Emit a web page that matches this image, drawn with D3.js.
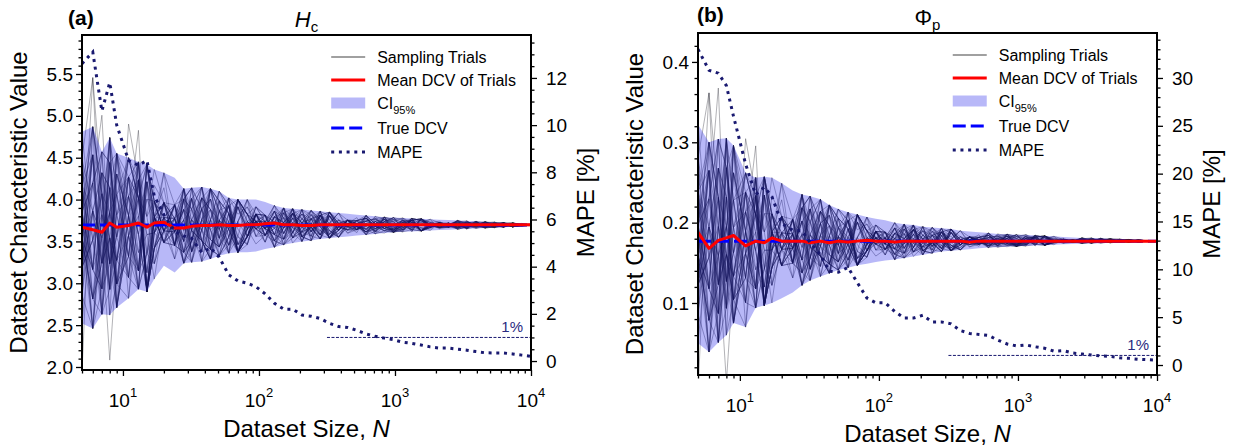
<!DOCTYPE html>
<html>
<head>
<meta charset="utf-8">
<script src="https://cdn.jsdelivr.net/npm/d3@7"></script>
<style>
  body { margin: 0; background: #fff; }
  svg { display: block; font-family: "Liberation Sans", Arial, sans-serif; }
</style>
</head>
<body>
<svg id="chart" width="1238" height="448"></svg>
<script>
// dataset sizes (log grid) shared by both panels
const N_SIZES = [5, 6, 7, 8, 9, 11, 13, 15, 17, 20, 24, 28, 32, 38, 44, 51, 60, 70, 82, 95,
  111, 130, 152, 177, 207, 242, 282, 330, 385, 449, 525, 613, 716, 836, 976,
  1140, 1331, 1554, 1815, 2120, 2476, 2891, 3376, 3943, 4604, 5377, 6279, 7333, 8564, 10000];

// (a) H_c
const HC_TRUE = 3.695;
const HC_MEAN = [3.67, 3.64, 3.61, 3.72, 3.67, 3.69, 3.72, 3.67, 3.72, 3.73,
  3.66, 3.66, 3.68, 3.69, 3.69, 3.70, 3.69, 3.69, 3.70, 3.70,
  3.71, 3.72, 3.70, 3.70, 3.69, 3.69, 3.70, 3.70, 3.70, 3.70,
  3.70, 3.70, 3.70, 3.70, 3.70, 3.70, 3.70, 3.70, 3.70, 3.70,
  3.70, 3.70, 3.70, 3.70, 3.70, 3.70, 3.70, 3.70, 3.70, 3.70];
const HC_CI_HI = [4.81, 4.87, 4.57, 4.74, 4.55, 4.50, 4.45, 4.42, 4.36, 4.32,
  4.26, 4.13, 4.14, 4.15, 4.13, 4.10, 4.02, 4.00, 4.00, 4.00,
  3.97, 3.93, 3.90, 3.89, 3.88, 3.87, 3.86, 3.85, 3.84, 3.83,
  3.82, 3.81, 3.80, 3.79, 3.785, 3.78, 3.775, 3.77, 3.765, 3.76,
  3.755, 3.75, 3.745, 3.74, 3.735, 3.73, 3.725, 3.72, 3.715, 3.71];
const HC_CI_LO = [2.52, 2.46, 2.63, 2.62, 2.71, 2.82, 2.93, 2.90, 3.05, 3.21,
  3.13, 3.24, 3.25, 3.26, 3.29, 3.33, 3.36, 3.37, 3.37, 3.38,
  3.41, 3.43, 3.46, 3.48, 3.50, 3.51, 3.53, 3.54, 3.55, 3.56,
  3.57, 3.58, 3.59, 3.60, 3.61, 3.615, 3.62, 3.625, 3.63, 3.635,
  3.64, 3.645, 3.65, 3.655, 3.66, 3.665, 3.67, 3.675, 3.68, 3.685];
const HC_MAPE = [12.6, 13.1, 10.6, 11.8, 10.0, 8.5, 8.3, 8.5, 7.0, 6.2,
  5.5, 5.3, 5.2, 4.6, 4.8, 4.4, 3.65, 3.4, 3.3, 3.15,
  2.85, 2.45, 2.2, 2.2, 1.95, 1.9, 1.8, 1.6, 1.46, 1.42,
  1.3, 1.15, 1.05, 0.97, 0.9, 0.8, 0.75, 0.68, 0.6, 0.55,
  0.55, 0.5, 0.46, 0.4, 0.35, 0.34, 0.34, 0.3, 0.25, 0.2];

// (b) Phi_p
const PHI_TRUE = 0.177;
const PHI_MEAN = [0.188, 0.168, 0.178, 0.181, 0.184, 0.171, 0.177, 0.175, 0.181, 0.177,
  0.177, 0.177, 0.175, 0.177, 0.175, 0.177, 0.176, 0.177, 0.178, 0.177,
  0.177, 0.176, 0.177, 0.177, 0.177, 0.177, 0.177, 0.177, 0.177, 0.176,
  0.177, 0.177, 0.177, 0.177, 0.177, 0.177, 0.177, 0.177, 0.177, 0.177,
  0.177, 0.177, 0.177, 0.177, 0.177, 0.177, 0.177, 0.177, 0.177, 0.177];
const PHI_CI_HI = [0.322, 0.300, 0.304, 0.305, 0.296, 0.262, 0.256, 0.257, 0.256, 0.249,
  0.240, 0.235, 0.233, 0.229, 0.222, 0.217, 0.213, 0.210, 0.207, 0.205,
  0.203, 0.200, 0.198, 0.197, 0.195, 0.194, 0.193, 0.192, 0.190, 0.189,
  0.188, 0.187, 0.186, 0.1855, 0.185, 0.185, 0.184, 0.1835, 0.183, 0.182,
  0.1815, 0.181, 0.181, 0.1805, 0.180, 0.1795, 0.179, 0.1785, 0.178, 0.1775];
const PHI_CI_LO = [0.050, 0.039, 0.051, 0.060, 0.075, 0.070, 0.094, 0.097, 0.100, 0.106,
  0.113, 0.122, 0.128, 0.133, 0.137, 0.141, 0.144, 0.147, 0.149, 0.151,
  0.153, 0.154, 0.156, 0.158, 0.160, 0.162, 0.164, 0.165, 0.166, 0.167,
  0.168, 0.169, 0.1695, 0.170, 0.1705, 0.171, 0.1715, 0.172, 0.1725, 0.173,
  0.1735, 0.174, 0.1742, 0.1745, 0.175, 0.1753, 0.1756, 0.176, 0.1763, 0.1765];
const PHI_MAPE = [33.0, 30.8, 30.5, 29.2, 26.0, 21.0, 17.8, 18.6, 17.6, 14.8,
  14.1, 14.0, 12.8, 11.5, 9.8, 9.7, 10.2, 8.6, 7.0, 6.5,
  6.5, 5.6, 4.9, 4.9, 5.2, 4.5, 4.5, 4.3, 3.6, 3.3,
  3.2, 3.1, 2.6, 2.2, 2.0, 2.1, 1.9, 1.75, 1.45, 1.5,
  1.25, 1.15, 1.05, 0.95, 0.9, 0.75, 0.7, 0.6, 0.55, 0.5];

// sampling trials: one digit per dataset size, position inside the CI
// (1 = lower bound, 8 = upper bound, 0 / 9 = outside)
const TRIAL_CODES = [
  '5374628153 4625873142 3658241736 5247361854 6352847136',
  '4263759148 6371524863 5482637125 3746152834 4615238475',
  '6548231746 3254716385 4736582514 6283547136 5374826145',
  '3715846253 5843162574 2657341862 4538267143 3526841754',
  '7936152864 4157836247 6312458736 5674123586 4861357246',
  '2854367135 6725413856 4583162743 3425786154 5743268135',
  '5127486353 3648257146 5274836415 7163245867 3254671843',
  '4683527164 5236741583 3647528316 4852137654 6417523684',
  '6342815736 4783265147 6125473856 3547682135 4375268541',
  '3576142865 5314876234 4768235614 5236147853 5648312476',
  '5861273445 2475631864 3546817325 6721354682 3582647153',
  '4235687153 6843215746 5213764853 4367528143 6134758236',
  '7514326856 3562847135 4678153264 2854637145 4526371864',
  '3462758134 5137642586 6382547315 5643128756 3817465324',
  '5728364153 4653187425 3457216836 4175836243 5243876154',
  '6153472865 3786254137 5824367152 3528764135 4675123846',
  '4387561324 6241538675 2563874136 6354217843 3468752415',
  '2645197586 4578326154 6437152843 4812376554 5736241568',
  '5376248153 3724651836 4158637245 5263748136 6254837415',
  '6812374655 5136847326 3572461584 3647185326 4518362746',
  '3546827134 6457213865 5348276154 4536271846 3782456153',
  '4728153664 2863574135 6215437846 5748326145 5364718236',
  '7253846415 4615328764 3684752136 3825164573 4637251845',
  '3418675253 5372864145 4523816754 6142357836 3576428154',
  '5634217856 3786451326 6357248136 4673825164 6241537846',
  '4175386524 6524137865 2738564315 5364218745 4853726143',
  '6382751346 4137586254 5461327586 3528476153 3465827164',
  '2537468135 5846213746 4327685143 6742153846 5738162453',
  '5863142757 3254867136 6145738256 4256837145 4627358146',
  '4216578364 6473152845 3586421736 5318746253 6354172835',
  '3758264135 4625738164 5247386154 3675412846 4183657246',
  '6423857146 5381264735 4736152846 5487326153 3527461864',
  '5140372856 3768425136 6382574135 4253168746 5846237154',
  '3687145263 4532876154 3618247536 6734258143 4365182746',
  '7325486134 6147325867 5273641853 3546872135 5738264153',
  '4571632845 3826754136 4852367145 5163248756 3642517864',
  '1534276854 5673148236 3427586164 4378625143 6275341856',
  '8462537146 4215863745 5736241583 6524137865 4813652734',
  '5237864153 6384257126 4165738254 3857264316 5426378145',
  '3964152376 5127634865 6548213746 4236857143 3754186253',
  '6245738158 3768412536 4327865143 5614273856 4263857164',
  '4736251864 4853176245 5183642736 3742561845 5376124835',
  '2158637445 6342587136 3654217856 6835142736 3648275154',
  '5693421754 3517624863 4726385146 4257638152 6135782446',
  '4327586136 5264371854 6513827465 3468152736 4527638165',
  '6714238564 4836152736 3247568154 5126473856 3865214753',
  '3452876143 5743268154 5862341736 4358267146 5134786253',
  '0865341726 6238547135 4375162845 6743528163 4256317846'
];

const X_MAJOR = [10, 100, 1000, 10000];
const X_EXP = ['1', '2', '3', '4'];
const HC_Y_TICKS = [2.0, 2.5, 3.0, 3.5, 4.0, 4.5, 5.0, 5.5];
const HC_M_TICKS = [0, 2, 4, 6, 8, 10, 12];
const PHI_Y_TICKS = [0.1, 0.2, 0.3, 0.4];
const PHI_M_TICKS = [0, 5, 10, 15, 20, 25, 30];
const LEGEND_LABELS = ['Sampling Trials', 'Mean DCV of Trials', 'CI', 'True DCV', 'MAPE'];

const NAVY = '#191970';
const BAND = 'rgb(0,0,230)';
const svg = d3.select('#chart');

const panels = [
  {
    key: 'a', tag: '(a)', tagX: 68, tagY: 25, title: 'H', sub: 'c', italic: true,
    x0: 82, x1: 531, y0: 35, y1: 370,
    yDomain: [1.964, 5.966], mDomain: [-0.38, 13.82],
    yTicks: HC_Y_TICKS, yMinor: 0.1, mTicks: HC_M_TICKS, mMinor: 0.5,
    truth: HC_TRUE, mean: HC_MEAN, hi: HC_CI_HI, lo: HC_CI_LO, mape: HC_MAPE
  },
  {
    key: 'b', tag: '(b)', tagX: 697, tagY: 22, title: 'Φ', sub: 'p', italic: false,
    x0: 698, x1: 1157, y0: 33, y1: 375,
    yDomain: [0.0104, 0.436], mDomain: [-1.045, 34.7],
    yTicks: PHI_Y_TICKS, yMinor: 0.02, mTicks: PHI_M_TICKS, mMinor: 1,
    truth: PHI_TRUE, mean: PHI_MEAN, hi: PHI_CI_HI, lo: PHI_CI_LO, mape: PHI_MAPE
  }
];

function zOf(d) {
  if (d === 0) return -1.5;
  if (d === 9) return 1.5;
  return (d - 4.5) / 3.5;
}

function minorValues(domain, step, major) {
  const out = [];
  const start = Math.ceil(domain[0] / step) * step;
  for (let v = start; v <= domain[1] + 1e-9; v += step) {
    const r = +v.toFixed(4);
    if (!major.some(t => Math.abs(t - r) < 1e-6)) out.push(r);
  }
  return out;
}

function styleAxis(g, fontSize) {
  g.select('.domain').remove();
  g.selectAll('.tick line').attr('stroke', '#000').attr('stroke-width', 1.3);
  g.selectAll('.tick text').attr('font-size', fontSize)
    .attr('font-family', '"Liberation Sans", Arial, sans-serif').attr('fill', '#000');
}

function drawPanel(p) {
  const x = d3.scaleLog([5, 10000], [p.x0, p.x1]);
  const y = d3.scaleLinear(p.yDomain, [p.y1, p.y0]);
  const m = d3.scaleLinear(p.mDomain, [p.y1, p.y0]);
  const g = svg.append('g');

  const clipId = 'clip-' + p.key;
  svg.append('defs').append('clipPath').attr('id', clipId)
    .append('rect')
      .attr('x', p.x0).attr('y', p.y0)
      .attr('width', p.x1 - p.x0).attr('height', p.y1 - p.y0);
  const plot = g.append('g').attr('clip-path', `url(#${clipId})`);

  // trials
  const trials = TRIAL_CODES.map(code => {
    const digits = code.replace(/ /g, '');
    return N_SIZES.map((n, i) => {
      if (i >= digits.length) return null;
      const z = zOf(+digits[i]);
      const half = z > 0 ? p.hi[i] - p.truth : p.truth - p.lo[i];
      return p.truth + z * half;
    });
  });
  const valLine = d3.line()
    .defined(d => d != null)
    .x((d, i) => x(N_SIZES[i]))
    .y(d => y(d));
  plot.append('g')
    .selectAll('path')
    .data(trials)
    .join('path')
      .attr('d', valLine)
      .attr('fill', 'none')
      .attr('stroke', '#1c1c2a')
      .attr('stroke-opacity', 0.34)
      .attr('stroke-width', 1);

  // confidence band
  const area = d3.area()
    .x((d, i) => x(N_SIZES[i]))
    .y0((d, i) => y(p.lo[i]))
    .y1((d, i) => y(p.hi[i]));
  plot.append('path')
    .attr('d', area(N_SIZES))
    .attr('fill', BAND)
    .attr('fill-opacity', 0.28);

  // true value, mean
  plot.append('line')
    .attr('x1', p.x0).attr('x2', p.x1)
    .attr('y1', y(p.truth)).attr('y2', y(p.truth))
    .attr('stroke', '#0000ff').attr('stroke-width', 3)
    .attr('stroke-dasharray', '13 5');
  plot.append('path')
    .attr('d', valLine(p.mean))
    .attr('fill', 'none').attr('stroke', '#ff0000').attr('stroke-width', 3)
    .attr('stroke-linejoin', 'round');

  // MAPE
  const mapeLine = d3.line().x((d, i) => x(N_SIZES[i])).y(d => m(d));
  plot.append('path')
    .attr('d', mapeLine(p.mape))
    .attr('fill', 'none').attr('stroke', NAVY).attr('stroke-width', 3)
    .attr('stroke-dasharray', '3 4.7');

  // 1% reference
  plot.append('line')
    .attr('x1', x(Math.pow(10, 2.5))).attr('x2', p.x1)
    .attr('y1', m(1)).attr('y2', m(1))
    .attr('stroke', NAVY).attr('stroke-width', 1)
    .attr('stroke-dasharray', '3 1.5');
  g.append('text')
    .attr('x', p.x1 - 8).attr('y', m(1) - 5)
    .attr('text-anchor', 'end')
    .attr('font-size', 15).attr('fill', '#2a2a80')
    .text('1%');

  // frame
  g.append('rect')
    .attr('x', p.x0).attr('y', p.y0)
    .attr('width', p.x1 - p.x0).attr('height', p.y1 - p.y0)
    .attr('fill', 'none').attr('stroke', '#000').attr('stroke-width', 2);

  // left axis
  const yMaj = g.append('g').attr('transform', `translate(${p.x0},0)`)
    .call(d3.axisLeft(y).tickValues(p.yTicks).tickFormat(d3.format('.1f')).tickSize(6).tickPadding(3));
  styleAxis(yMaj, 19);
  const yMin = g.append('g').attr('transform', `translate(${p.x0},0)`)
    .call(d3.axisLeft(y).tickValues(minorValues(p.yDomain, p.yMinor, p.yTicks)).tickFormat('').tickSize(3.5));
  styleAxis(yMin, 19);

  // right axis
  const mMaj = g.append('g').attr('transform', `translate(${p.x1},0)`)
    .call(d3.axisRight(m).tickValues(p.mTicks).tickFormat(d3.format('d')).tickSize(6).tickPadding(9));
  styleAxis(mMaj, 19);
  const mMin = g.append('g').attr('transform', `translate(${p.x1},0)`)
    .call(d3.axisRight(m).tickValues(minorValues(p.mDomain, p.mMinor, p.mTicks)).tickFormat('').tickSize(3.5));
  styleAxis(mMin, 19);

  // bottom axis
  const xMinorVals = [];
  [1, 10, 100, 1000].forEach(dec => {
    for (let k = 2; k <= 9; k++) if (dec * k >= 5) xMinorVals.push(dec * k);
  });
  const xMaj = g.append('g').attr('transform', `translate(0,${p.y1})`)
    .call(d3.axisBottom(x).tickValues(X_MAJOR).tickFormat('').tickSize(6));
  styleAxis(xMaj, 19);
  const xMin = g.append('g').attr('transform', `translate(0,${p.y1})`)
    .call(d3.axisBottom(x).tickValues(xMinorVals).tickFormat('').tickSize(3.5));
  styleAxis(xMin, 19);
  X_MAJOR.forEach((v, i) => {
    const t = g.append('text')
      .attr('x', x(v)).attr('y', p.y1 + 37)
      .attr('text-anchor', 'middle').attr('font-size', 19);
    t.append('tspan').text('10');
    t.append('tspan').attr('dy', -10).attr('font-size', 13).text(X_EXP[i]);
  });

  // axis labels
  const cx = (p.x0 + p.x1) / 2, cy = (p.y0 + p.y1) / 2;
  const xl = g.append('text')
    .attr('x', cx).attr('y', p.y1 + 67)
    .attr('text-anchor', 'middle').attr('font-size', 24);
  xl.append('tspan').text('Dataset Size, ');
  xl.append('tspan').attr('font-style', 'italic').text('N');
  g.append('text')
    .attr('transform', `translate(${p.x0 - 55},${cy}) rotate(-90)`)
    .attr('text-anchor', 'middle').attr('font-size', 24)
    .text('Dataset Characteristic Value');
  g.append('text')
    .attr('transform', `translate(${p.x1 + 63},${cy}) rotate(-90)`)
    .attr('text-anchor', 'middle').attr('font-size', 24)
    .text('MAPE [%]');

  // titles
  g.append('text')
    .attr('x', p.tagX).attr('y', p.tagY)
    .attr('font-size', 21).attr('font-weight', 'bold')
    .text(p.tag);
  const ti = g.append('text')
    .attr('x', cx).attr('y', p.y0 - 8)
    .attr('text-anchor', 'middle').attr('font-size', 22);
  ti.append('tspan').attr('font-style', p.italic ? 'italic' : 'normal').text(p.title);
  ti.append('tspan').attr('dy', 5).attr('font-size', 15).text(p.sub);

  // legend
  const w = p.x1 - p.x0;
  const lx = p.x0 + 0.555 * w;
  const rows = [22, 45, 68, 93, 117];
  const lg = g.append('g');
  rows.forEach((dy, i) => {
    const ry = p.y0 + dy;
    if (i === 0) {
      lg.append('line').attr('x1', lx).attr('x2', lx + 34).attr('y1', ry).attr('y2', ry)
        .attr('stroke', '#808080').attr('stroke-width', 1.5);
    } else if (i === 1) {
      lg.append('line').attr('x1', lx).attr('x2', lx + 34).attr('y1', ry).attr('y2', ry)
        .attr('stroke', '#ff0000').attr('stroke-width', 3);
    } else if (i === 2) {
      lg.append('rect').attr('x', lx).attr('y', ry - 5.5).attr('width', 34).attr('height', 11)
        .attr('fill', BAND).attr('fill-opacity', 0.28);
    } else if (i === 3) {
      lg.append('line').attr('x1', lx).attr('x2', lx + 34).attr('y1', ry).attr('y2', ry)
        .attr('stroke', '#0000ff').attr('stroke-width', 3).attr('stroke-dasharray', '13 5');
    } else {
      lg.append('line').attr('x1', lx).attr('x2', lx + 34).attr('y1', ry).attr('y2', ry)
        .attr('stroke', NAVY).attr('stroke-width', 3).attr('stroke-dasharray', '3 4.7');
    }
    const tx = lg.append('text')
      .attr('x', lx + 46).attr('y', ry + 5.5)
      .attr('font-size', 16);
    tx.append('tspan').text(LEGEND_LABELS[i]);
    if (i === 2) tx.append('tspan').attr('dy', 5).attr('font-size', 11).text('95%');
  });
}

panels.forEach(drawPanel);
</script>
</body>
</html>
